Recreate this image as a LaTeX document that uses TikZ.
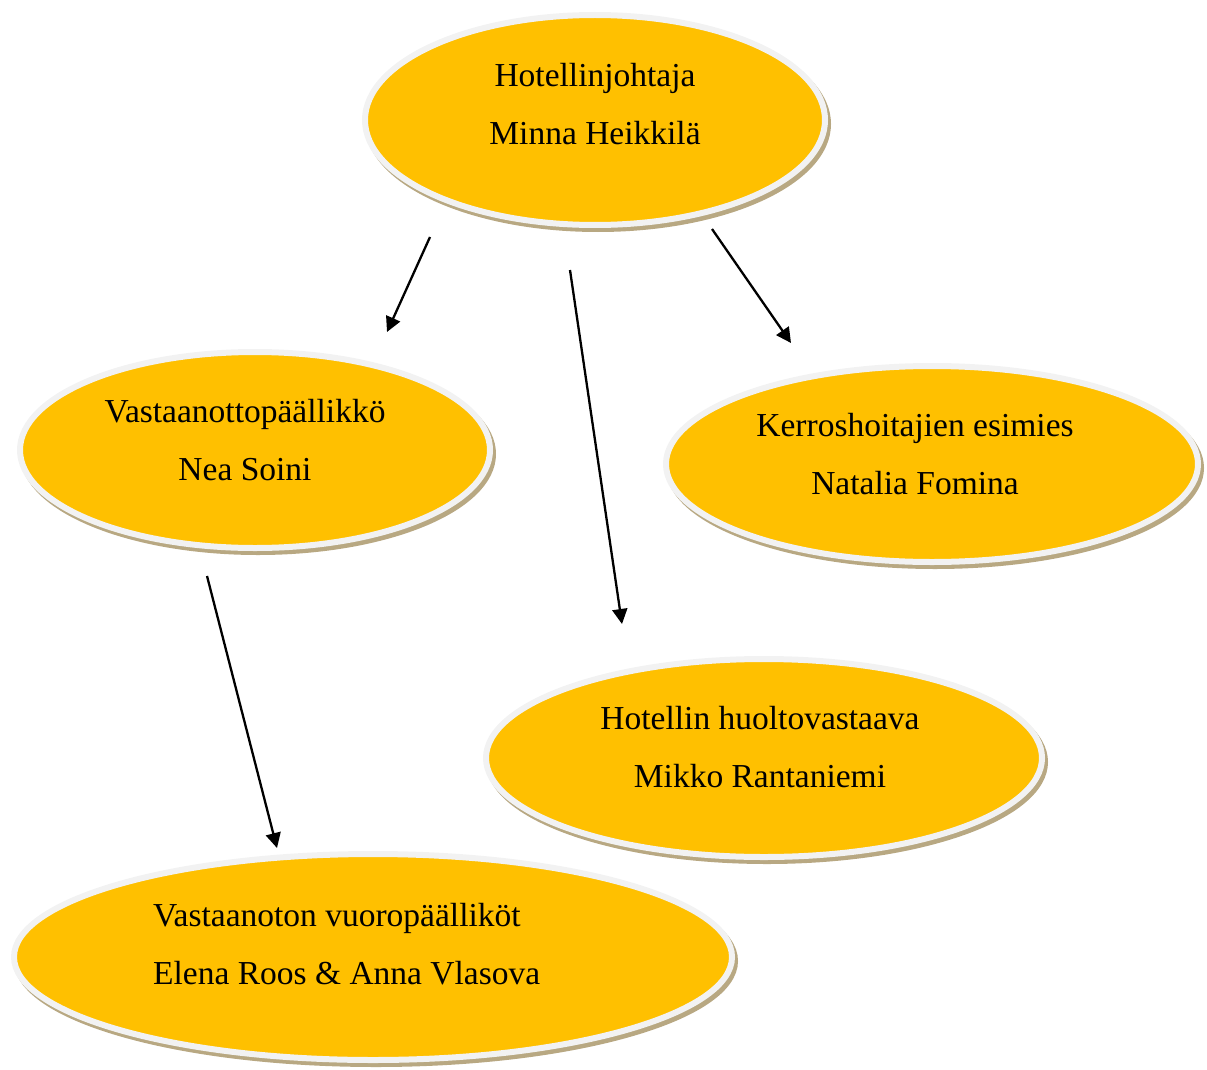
\documentclass[tikz,border=0pt]{standalone}
\usepackage{fontspec}
\setmainfont{Liberation Serif}
\usetikzlibrary{shapes.geometric,arrows.meta,shadows}
\definecolor{gold}{HTML}{FFC000}
\definecolor{rim}{HTML}{F2F2F2}
\definecolor{tan}{HTML}{B8A882}
\tikzset{
  oval/.style={ellipse, inner sep=0pt, fill=gold, draw=rim, line width=6pt,
    drop shadow={shadow xshift=3pt, shadow yshift=-4pt, fill=tan, draw=tan, line width=6pt, opacity=1}},
  label/.style={font=\fontsize{33.5}{58}\selectfont, align=center, inner sep=0pt},
  arr/.style={line width=2.3pt, -{Triangle[length=15pt,width=15pt]}}
}
\begin{document}
\begin{tikzpicture}[x=1pt,y=-1pt]
\useasboundingbox (0,0) rectangle (1207,1070);
\node[oval, minimum width=460pt, minimum height=210pt] (e1) at (595,120) {};
\node[oval, minimum width=470pt, minimum height=196pt] (e2) at (255,450) {};
\node[oval, minimum width=532pt, minimum height=196pt] (e3) at (932,464) {};
\node[oval, minimum width=556pt, minimum height=198pt] (e4) at (764,758) {};
\node[oval, minimum width=718pt, minimum height=206pt] (e5) at (373,957) {};
\node[label] (t1) at (595,104) {Hotellinjohtaja\\Minna Heikkilä};
\node[label] (t2) at (245,440) {Vastaanottopäällikkö\\Nea Soini};
\node[label] (t3) at (915,454) {Kerroshoitajien esimies\\Natalia Fomina};
\node[label] (t4) at (760,747) {Hotellin huoltovastaava\\Mikko Rantaniemi};
\node[label, align=left, anchor=west] (t5) at (153,944) {Vastaanoton vuoropäälliköt\\Elena Roos \& Anna Vlasova};
\coordinate (a1s) at (430,237); \coordinate (a1e) at (387,332);
\coordinate (a2s) at (570,270); \coordinate (a2e) at (622,624);
\coordinate (a3s) at (712,229); \coordinate (a3e) at (791,343);
\coordinate (a4s) at (207,576); \coordinate (a4e) at (277,848);
\draw[arr] (a1s) -- (a1e);
\draw[arr] (a2s) -- (a2e);
\draw[arr] (a3s) -- (a3e);
\draw[arr] (a4s) -- (a4e);
\end{tikzpicture}
\end{document}
